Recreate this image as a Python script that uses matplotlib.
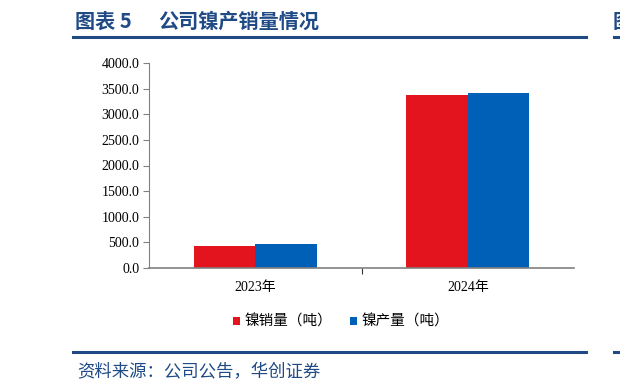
import matplotlib.pyplot as plt
import numpy as np

plt.rcParams['font.family'] = ['Liberation Serif', 'Noto Sans CJK SC', 'DejaVu Sans']

# data
years = ['2023年', '2024年']
sales = [435, 3376]        # 镍销量（吨）
production = [462, 3420]   # 镍产量（吨）
series_names = ['镍销量（吨）', '镍产量（吨）']
yticks = np.arange(0, 4001, 500)

red = '#E3141E'
blue = '#0060B7'
navy = '#1F4A85'

fig = plt.figure(figsize=(6.2, 3.92), dpi=100)
W, H = 620, 392

ax = fig.add_axes([149 / W, 1 - 268 / H, (574 - 149) / W, (268 - 63) / H])
x = np.arange(len(years))
bw = 0.29
ax.bar(x - bw / 2, sales, bw, color=red, label=series_names[0])
ax.bar(x + bw / 2, production, bw, color=blue, label=series_names[1])

ax.set_xlim(-0.5, len(years) - 0.5)
ax.set_ylim(0, 4000)
ax.set_yticks(yticks)
ax.set_yticklabels([f'{v:.1f}' for v in yticks], fontsize=10)
ax.set_xticks([0.5])
ax.set_xticklabels([''])
ax.set_xticks(x, minor=True)
ax.set_xticklabels(years, minor=True, fontsize=10)
ax.tick_params(axis='x', which='minor', length=0, pad=9)
ax.tick_params(axis='x', which='major', length=4, color='#333333')
ax.tick_params(axis='y', length=4, color='#808080', pad=3)
for s in ['top', 'right']:
    ax.spines[s].set_visible(False)
ax.spines['left'].set_color('#808080')
ax.spines['bottom'].set_color('#808080')
ax.spines['bottom'].set_linewidth(1.2)

fig.legend(loc='center', bbox_to_anchor=(341 / W, 1 - 322 / H), ncol=2, frameon=False,
           handlelength=0.5, handleheight=0.5, handletextpad=0.3, columnspacing=1.2,
           prop={'family': ['Noto Sans CJK SC'], 'size': 10.5})

# header and footer
cjk = ['Noto Sans CJK SC']
fig.text(75 / W, 1 - 21 / H, '图表 5', fontsize=14.5, fontweight='bold',
         color=navy, va='center', family=cjk)
fig.text(158 / W, 1 - 21 / H, '公司镍产销量情况', fontsize=14.5, fontweight='bold',
         color=navy, va='center', family=cjk)
fig.add_artist(plt.Line2D([73 / W, 586 / W], [1 - 37 / H] * 2, color=navy, lw=2.2))
fig.add_artist(plt.Line2D([614 / W, 1.0], [1 - 37 / H] * 2, color=navy, lw=2.2))
fig.text(613 / W, 1 - 21 / H, '图', fontsize=14.5, fontweight='bold', color=navy,
         va='center', family=cjk)
fig.add_artist(plt.Line2D([73 / W, 586 / W], [1 - 352 / H] * 2, color=navy, lw=2.2))
fig.add_artist(plt.Line2D([614 / W, 1.0], [1 - 352 / H] * 2, color=navy, lw=2.2))
fig.text(77 / W, 1 - 372 / H, '资料来源：公司公告，华创证券', fontsize=12.5, color=navy,
         va='center', family=cjk)

fig.savefig('out.png', dpi=100)
